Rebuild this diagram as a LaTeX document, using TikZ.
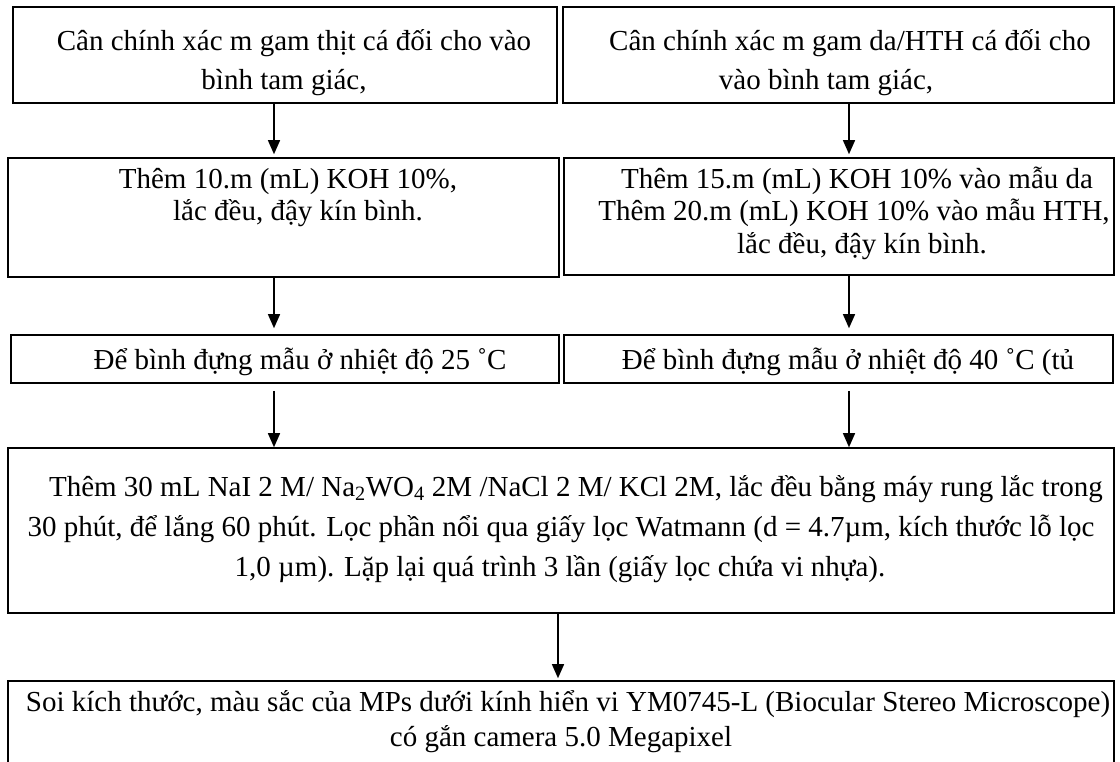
\documentclass[tikz,border=0pt]{standalone}
\usepackage{fontspec}
\setmainfont{Liberation Serif}
\usetikzlibrary{arrows.meta,calc}
\begin{document}
\begin{tikzpicture}[x=1pt,y=-1pt,
  box/.style={draw,line width=1.6pt,inner sep=0pt},
  txt/.style={anchor=base,inner sep=0pt,font=\fontsize{29}{35}\selectfont},
  arr/.style={line width=1.4pt,-{Triangle[length=14pt,width=12pt]}}]
\clip (0,0) rectangle (1120,762);
\fill[white] (0,0) rectangle (1120,762);
% boxes
\node[box,minimum width=544pt,minimum height=96pt] (b1) at (285,55) {};
\node[box,minimum width=551pt,minimum height=96pt] (b2) at (838.5,55) {};
\node[box,minimum width=551pt,minimum height=119pt] (b3) at (283.5,217.5) {};
\node[box,minimum width=550pt,minimum height=117pt] (b4) at (839,216.5) {};
\node[box,minimum width=548pt,minimum height=48pt] (b5) at (285,359) {};
\node[box,minimum width=549pt,minimum height=48pt] (b6) at (838.5,359) {};
\node[box,minimum width=1106pt,minimum height=165pt] (b7) at (561,530.5) {};
\node[box,minimum width=1106pt,minimum height=100pt] (b8) at (561,731) {};
% texts
\node[txt] (t1a) at (294,51) {Cân chính xác m gam thịt cá đối cho vào};
\node[txt] (t1b) at (284,90) {bình tam giác,};
\node[txt] (t2a) at (850,51) {Cân chính xác m gam da/HTH cá đối cho};
\node[txt] (t2b) at (826,90) {vào bình tam giác,};
\node[txt] (t3a) at (288,189) {Thêm 10.m (mL) KOH 10\%,};
\node[txt] (t3b) at (298,221) {lắc đều, đậy kín bình.};
\node[txt] (t4a) at (857,189) {Thêm 15.m (mL) KOH 10\% vào mẫu da};
\node[txt] (t4b) at (854,221) {Thêm 20.m (mL) KOH 10\% vào mẫu HTH,};
\node[txt] (t4c) at (862,254) {lắc đều, đậy kín bình.};
\node[txt] (t5) at (300,370) {Để bình đựng mẫu ở nhiệt độ 25 ˚C};
\node[txt] (t6) at (848,370) {Để bình đựng mẫu ở nhiệt độ 40 ˚C (tủ};
\node[txt] (t7a) at (576,496) {Thêm 30 mL NaI 2 M/ Na\textsubscript{2}WO\textsubscript{4} 2M /NaCl 2 M/ KCl 2M, lắc đều bằng máy rung lắc trong};
\node[txt] (t7b) at (561,536) {30 phút, để lắng 60 phút. Lọc phần nổi qua giấy lọc Watmann (d = 4.7µm, kích thước lỗ lọc};
\node[txt] (t7c) at (560,576) {1,0 µm). Lặp lại quá trình 3 lần (giấy lọc chứa vi nhựa).};
\node[txt] (t8a) at (568,711) {Soi kích thước, màu sắc của MPs dưới kính hiển vi YM0745-L (Biocular Stereo Microscope)};
\node[txt] (t8b) at (561,746) {có gắn camera 5.0 Megapixel};
% connectors
\coordinate (cL) at (274,0);
\coordinate (cR) at (849,0);
\coordinate (cM) at (558,0);
\draw[arr,shorten >=3pt] (b1.south -| cL) -- (b3.north -| cL);
\draw[arr,shorten >=3pt] (b2.south -| cR) -- (b4.north -| cR);
\draw[arr,shorten >=6pt] (b3.south -| cL) -- (b5.north -| cL);
\draw[arr,shorten >=6pt] (b4.south -| cR) -- (b6.north -| cR);
\draw[arr,shorten <=7pt] (b5.south -| cL) -- (b7.north -| cL);
\draw[arr,shorten <=7pt] (b6.south -| cR) -- (b7.north -| cR);
\draw[arr,shorten >=2pt] (b7.south -| cM) -- (b8.north -| cM);
\end{tikzpicture}
\end{document}
